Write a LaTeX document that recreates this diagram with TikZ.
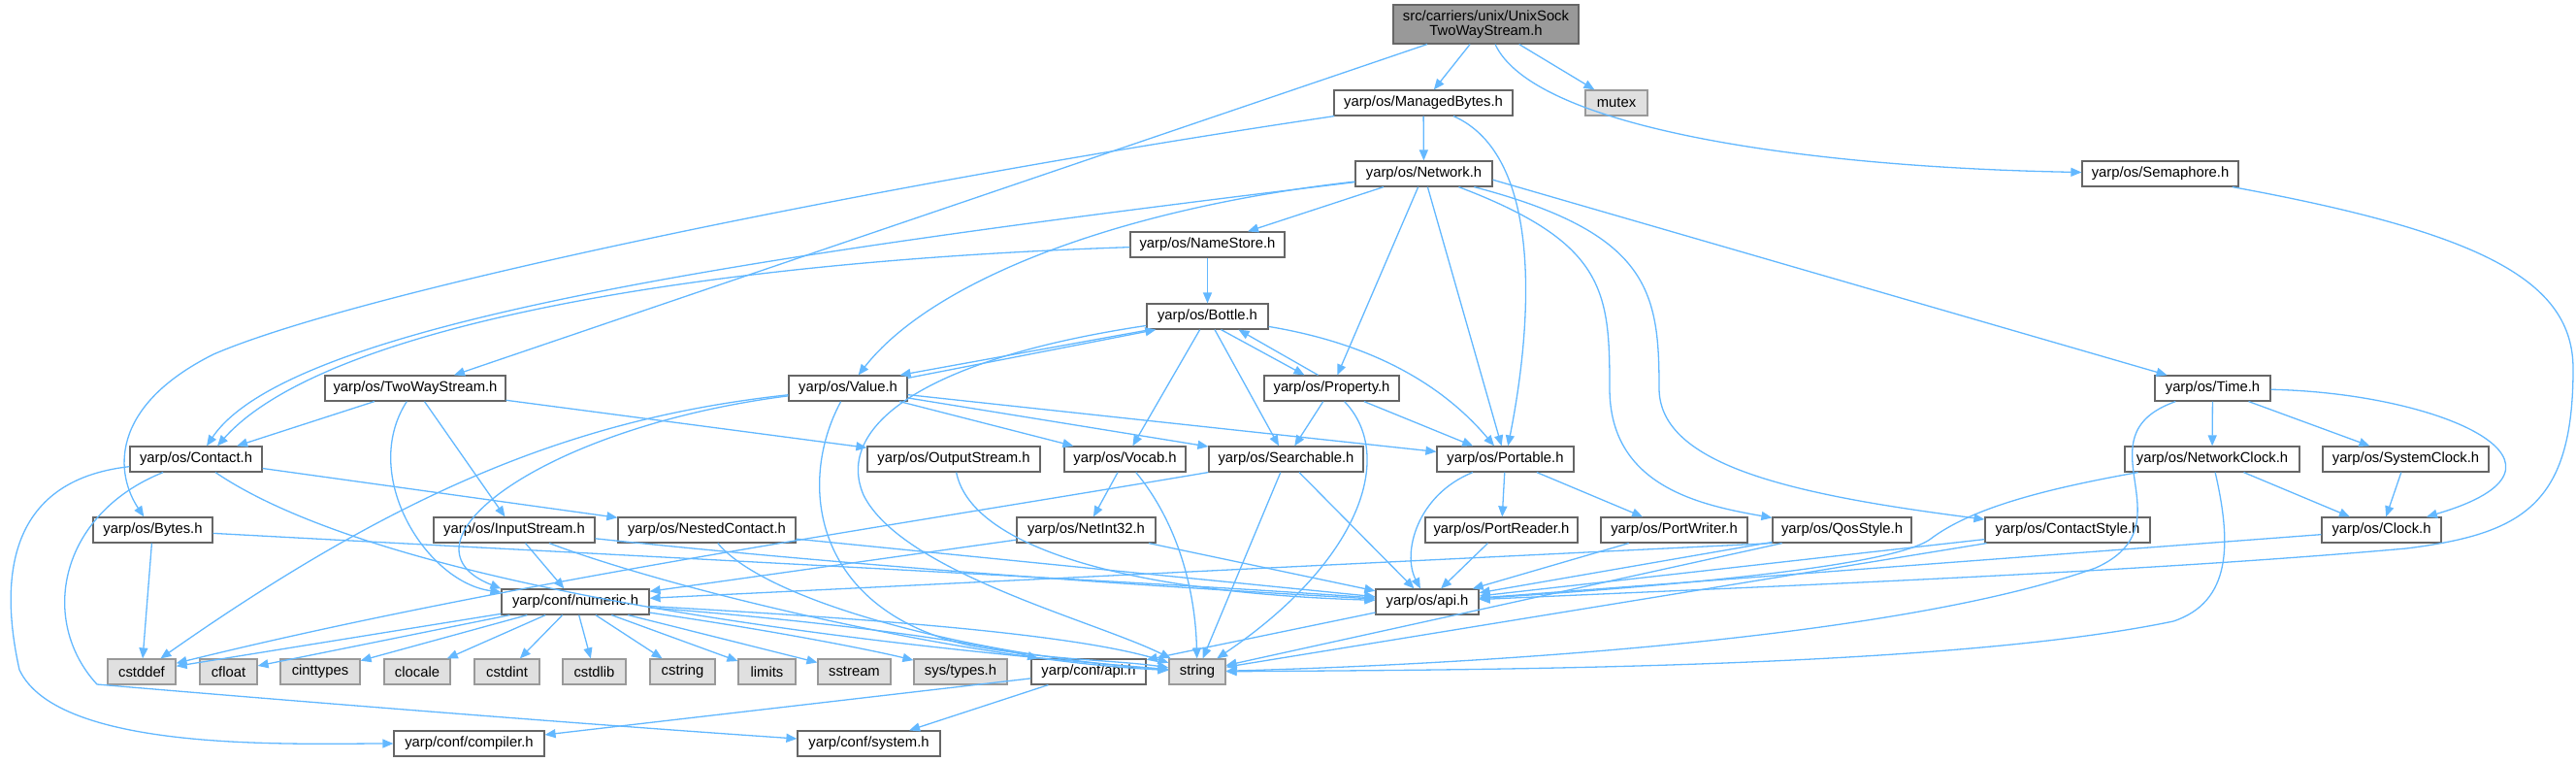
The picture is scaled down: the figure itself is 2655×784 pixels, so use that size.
\documentclass[tikz,border=0pt]{standalone}
\usepackage{fontspec}
\setmainfont{Liberation Sans}
\usetikzlibrary{arrows.meta,calc}
\definecolor{edgeblue}{HTML}{63B8FF}
\definecolor{boxline}{HTML}{666666}
\definecolor{sysline}{HTML}{999999}
\definecolor{sysfill}{HTML}{E0E0E0}
\definecolor{rootfill}{HTML}{999999}
\tikzset{
  hdr/.style={draw=boxline, fill=white, line width=0.6pt, minimum width=#1,
    minimum height=13pt, inner sep=0pt, font=\fontsize{7.4}{7.6}\selectfont},
  syshdr/.style={hdr=#1, draw=sysline, fill=sysfill},
  roothdr/.style={hdr=#1, fill=rootfill, minimum height=20pt, align=center},
  dep/.style={draw=edgeblue, line width=0.65pt, -{Triangle[length=5.5pt,width=4.5pt]}},
}
\begin{document}
\begin{tikzpicture}[x=0.5pt, y=-0.5pt]
  \useasboundingbox (0,0) rectangle (2655,784);
  % headers, row by row
  \node[roothdr=95.5pt] (root) at (1531.5,25) {src/carriers/unix/UnixSock\\TwoWayStream.h};
  \node[hdr=92pt] (mb) at (1467,106) {yarp/os/ManagedBytes.h};
  \node[syshdr=32pt] (mutex) at (1666,106) {mutex};
  \node[hdr=70.5pt] (net) at (1467.5,179) {yarp/os/Network.h};
  \node[hdr=80.5pt] (sem) at (2226.5,179) {yarp/os/Semaphore.h};
  \node[hdr=79.5pt] (ns) at (1244.5,252) {yarp/os/NameStore.h};
  \node[hdr=62.5pt] (bottle) at (1244.5,326) {yarp/os/Bottle.h};
  \node[hdr=93pt] (tws) at (428,400) {yarp/os/TwoWayStream.h};
  \node[hdr=61pt] (value) at (874,400) {yarp/os/Value.h};
  \node[hdr=69.5pt] (prop) at (1372.5,400) {yarp/os/Property.h};
  \node[hdr=59.5pt] (time) at (2280.5,400) {yarp/os/Time.h};
  \node[hdr=68pt] (contact) at (202,473) {yarp/os/Contact.h};
  \node[hdr=89pt] (ostream) at (983,473) {yarp/os/OutputStream.h};
  \node[hdr=62.5pt] (vocab) at (1159.5,473) {yarp/os/Vocab.h};
  \node[hdr=79.5pt] (search) at (1325.5,473) {yarp/os/Searchable.h};
  \node[hdr=70.5pt] (portable) at (1551.5,473) {yarp/os/Portable.h};
  \node[hdr=90pt] (nclock) at (2280,473) {yarp/os/NetworkClock.h};
  \node[hdr=85.5pt] (sclock) at (2479.5,473) {yarp/os/SystemClock.h};
  \node[hdr=61.5pt] (bytes) at (157.5,546) {yarp/os/Bytes.h};
  \node[hdr=83pt] (istream) at (530,546) {yarp/os/InputStream.h};
  \node[hdr=91.5pt] (nested) at (728.5,546) {yarp/os/NestedContact.h};
  \node[hdr=71.5pt] (netint) at (1119.5,546) {yarp/os/NetInt32.h};
  \node[hdr=78.5pt] (preader) at (1547.5,546) {yarp/os/PortReader.h};
  \node[hdr=75.5pt] (pwriter) at (1725.5,546) {yarp/os/PortWriter.h};
  \node[hdr=71.5pt] (qos) at (1898.5,546) {yarp/os/QosStyle.h};
  \node[hdr=85pt] (cstyle) at (2131,546) {yarp/os/ContactStyle.h};
  \node[hdr=61.5pt] (clock) at (2454.5,546) {yarp/os/Clock.h};
  \node[hdr=76pt] (numeric) at (593,620) {yarp/conf/numeric.h};
  \node[hdr=53pt] (osapi) at (1471,620) {yarp/os/api.h};
  \node[syshdr=35pt] (cstddef) at (146,692) {cstddef};
  \node[syshdr=29.5pt] (cfloat) at (235.5,692) {cfloat};
  \node[syshdr=41pt] (cinttypes) at (330,692) {cinttypes};
  \node[syshdr=34pt] (clocale) at (430,692) {clocale};
  \node[syshdr=33.5pt] (cstdint) at (522.5,692) {cstdint};
  \node[syshdr=32.5pt] (cstdlib) at (612.5,692) {cstdlib};
  \node[syshdr=33.5pt] (cstring) at (703.5,692) {cstring};
  \node[syshdr=29.5pt] (limits) at (790.5,692) {limits};
  \node[syshdr=37.5pt] (sstream) at (880.5,692) {sstream};
  \node[syshdr=48pt] (systypes) at (990,692) {sys/types.h};
  \node[hdr=59pt] (confapi) at (1122,692) {yarp/conf/api.h};
  \node[syshdr=29pt] (string) at (1234,692) {string};
  \node[hdr=77.5pt] (compiler) at (483.5,766) {yarp/conf/compiler.h};
  \node[hdr=73.5pt] (system) at (895.5,766) {yarp/conf/system.h};

  % includes of the root header
  \draw[dep] (root) -- (tws);
  \draw[dep] (root) -- (mb);
  \draw[dep] (root) -- (mutex);
  \draw[dep] (root) .. controls (1580,130) and (1850,172) .. (sem);
  % ManagedBytes.h
  \draw[dep] (mb) .. controls (900,190) and (370,300) .. (220,365) .. controls (110,420) and (120,490) .. (bytes);
  \draw[dep] (mb) -- (net);
  \draw[dep] (mb) .. controls (1590,160) and (1580,330) .. (portable);
  % Network.h
  \draw[dep] (net) .. controls (800,260) and (300,330) .. ($(contact.north)+(11,0)$);
  \draw[dep] (net) .. controls (1150,215) and (960,290) .. (value);
  \draw[dep] (net) -- (ns);
  \draw[dep] (net) -- (prop);
  \draw[dep] (net) -- (portable);
  \draw[dep] (net) .. controls (1655,250) and (1659,300) .. (1659,400) .. controls (1659,500) and (1750,520) .. (qos);
  \draw[dep] (net) .. controls (1700,240) and (1710,300) .. (1710,400) .. controls (1710,480) and (1850,510) .. (cstyle);
  \draw[dep] (net.-5) -- (time);
  % NameStore.h
  \draw[dep] (ns) .. controls (700,270) and (330,340) .. ($(contact.north)+(22,0)$);
  \draw[dep] (ns) -- (bottle);
  % Semaphore.h
  \draw[dep] (sem) .. controls (2560,240) and (2652,290) .. (2652,380) .. controls (2652,520) and (2600,550) .. (2480,565) .. controls (2200,590) and (1800,605) .. (osapi);
  % Bottle.h
  \draw[dep] ($(bottle.south west)+(4,0)$) -- ($(value.north east)+(-8,0)$);
  \draw[dep] (bottle) -- (vocab);
  \draw[dep] (bottle) -- (search);
  \draw[dep] ($(bottle.south)+(14,0)$) -- ($(prop.north)+(-28,0)$);
  \draw[dep] (bottle) .. controls (1420,355) and (1490,400) .. (portable);
  \draw[dep] (bottle) .. controls (950,370) and (860,440) .. (890,510) .. controls (930,590) and (1130,640) .. (string);
  % TwoWayStream.h
  \draw[dep] (tws) -- (contact);
  \draw[dep] (tws) .. controls (370,490) and (440,600) .. (numeric);
  \draw[dep] (tws) -- (istream);
  \draw[dep] (tws) -- (ostream);
  % Value.h
  \draw[dep] ($(value.north east)+(0,3)$) -- ($(bottle.south west)+(10,0)$);
  \draw[dep] (value) -- (vocab);
  \draw[dep] (value) -- (search);
  \draw[dep] (value) -- (portable);
  \draw[dep] (value) .. controls (820,500) and (840,630) .. (1000,665) .. controls (1080,680) and (1150,680) .. (string);
  \draw[dep] (value) .. controls (600,430) and (420,500) .. (cstddef);
  \draw[dep] (value) .. controls (560,440) and (400,560) .. (numeric.north west);
  % Property.h
  \draw[dep] ($(prop.north)+(-14,0)$) -- ($(bottle.south)+(32,0)$);
  \draw[dep] (prop) -- (search);
  \draw[dep] (prop) .. controls (1440,470) and (1400,580) .. (string);
  \draw[dep] (prop) -- (portable);
  % Time.h
  \draw[dep] (time) -- (nclock);
  \draw[dep] (time) -- (sclock);
  \draw[dep] (time) .. controls (2520,405) and (2680,480) .. (clock);
  \draw[dep] (time) .. controls (2140,450) and (2260,540) .. (2160,585) .. controls (1950,660) and (1500,685) .. (string);
  % Contact.h
  \draw[dep] (contact) -- (nested);
  \draw[dep] (contact) .. controls (5,495) and (0,600) .. (20,690) .. controls (60,775) and (300,766) .. (compiler);
  \draw[dep] (contact) .. controls (60,530) and (40,640) .. (100,705) .. controls (300,722) and (600,746) .. (system);
  \draw[dep] (contact) .. controls (330,560) and (600,640) .. (string);
  % OutputStream.h, Vocab.h, Searchable.h, Portable.h
  \draw[dep] (ostream) .. controls (1000,560) and (1150,610) .. (osapi);
  \draw[dep] (vocab) -- (netint);
  \draw[dep] (vocab) .. controls (1215,540) and (1232,610) .. (string);
  \draw[dep] (search) .. controls (900,545) and (520,600) .. (cstddef);
  \draw[dep] (search) -- (string);
  \draw[dep] (search) -- (osapi);
  \draw[dep] (portable) .. controls (1460,510) and (1445,570) .. (osapi);
  \draw[dep] (portable) -- (preader);
  \draw[dep] (portable) -- (pwriter);
  % clocks
  \draw[dep] (nclock) .. controls (2100,505) and (2030,525) .. (1990,555) .. controls (1950,585) and (1700,605) .. (osapi);
  \draw[dep] (nclock) -- (clock);
  \draw[dep] (nclock) .. controls (2300,560) and (2300,620) .. (2240,640) .. controls (2000,690) and (1500,690) .. (string);
  \draw[dep] (sclock) -- (clock);
  \draw[dep] (clock) -- (osapi);
  % second row of small headers
  \draw[dep] (bytes) -- (cstddef);
  \draw[dep] (bytes) .. controls (600,570) and (1200,600) .. (osapi);
  \draw[dep] (istream) -- (numeric);
  \draw[dep] (istream) .. controls (900,585) and (1200,605) .. (osapi);
  \draw[dep] (istream) .. controls (700,610) and (1000,680) .. (string);
  \draw[dep] (nested) -- (osapi);
  \draw[dep] (nested) .. controls (790,620) and (1000,675) .. (string);
  \draw[dep] (netint) -- (numeric);
  \draw[dep] (netint) -- (osapi);
  \draw[dep] (preader) -- (osapi);
  \draw[dep] (pwriter) -- (osapi);
  \draw[dep] (qos.south west) -- (numeric);
  \draw[dep] (qos) -- (osapi);
  \draw[dep] (qos) -- (string);
  \draw[dep] (cstyle) -- (osapi);
  \draw[dep] (cstyle) -- (string);
  % yarp/conf/numeric.h
  \draw[dep] (numeric) -- (cstddef);
  \draw[dep] (numeric) -- (cfloat);
  \draw[dep] (numeric) -- (cinttypes);
  \draw[dep] (numeric) -- (clocale);
  \draw[dep] (numeric) -- (cstdint);
  \draw[dep] (numeric) -- (cstdlib);
  \draw[dep] (numeric) -- (cstring);
  \draw[dep] (numeric) -- (limits);
  \draw[dep] (numeric) -- (sstream);
  \draw[dep] (numeric) .. controls (800,650) and (900,670) .. (systypes);
  \draw[dep] (numeric) .. controls (850,640) and (1000,660) .. (confapi);
  \draw[dep] (numeric) .. controls (850,635) and (1100,650) .. (string);
  % api headers
  \draw[dep] (osapi) -- (confapi);
  \draw[dep] (confapi) -- (compiler);
  \draw[dep] (confapi) -- (system);
\end{tikzpicture}
\end{document}
